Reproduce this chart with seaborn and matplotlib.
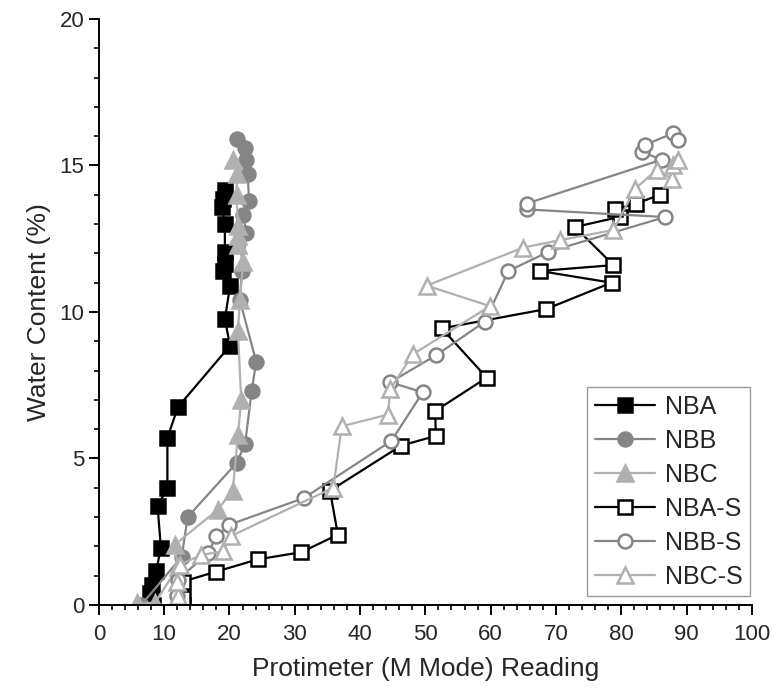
import numpy as np
import pandas as pd
import matplotlib
matplotlib.use('Agg')
import matplotlib.pyplot as plt
from matplotlib.ticker import MultipleLocator
import seaborn as sns

sns.set_style('ticks')
plt.rcParams['font.family'] = ['Liberation Sans', 'DejaVu Sans']

# values (protimeter reading, water content %)
nba_x = [8.3, 7.9, 8.1, 8.8, 9.5, 9.0, 10.5, 10.5, 12.1, 20.1, 19.3, 20.1, 19.0, 19.3, 19.3, 19.3, 18.8, 19.0, 19.3]
nba_y = [0.0, 0.4, 0.68, 1.16, 1.96, 3.37, 4.0, 5.7, 6.75, 8.85, 9.75, 10.9, 11.4, 11.65, 12.05, 13.0, 13.6, 13.87, 14.15]

nbb_x = [6.5, 12.7, 13.6, 21.1, 22.4, 23.4, 24.1, 21.6, 21.9, 22.6, 22.1, 23.0, 22.8, 22.6, 22.4, 21.1]
nbb_y = [0.0, 1.65, 3.0, 4.85, 5.5, 7.3, 8.3, 10.4, 11.4, 12.7, 13.3, 13.8, 14.7, 15.2, 15.6, 15.9]

nbc_x = [5.8, 8.6, 12.1, 11.6, 18.2, 20.5, 21.3, 21.8, 21.3, 21.6, 22.1, 21.3, 21.3, 21.3, 21.1, 21.1, 20.5]
nbc_y = [0.07, 0.07, 1.3, 2.05, 3.25, 3.9, 5.8, 7.0, 9.35, 10.4, 11.7, 12.3, 12.6, 12.95, 14.0, 14.7, 15.2]

nbas_x = [12.9, 12.9, 12.9, 18.0, 24.4, 31.0, 36.6, 35.4, 46.3, 51.6, 51.5, 59.4, 52.5, 68.5, 78.5, 67.5, 78.8, 72.9, 79.8, 79.0, 82.3, 85.9]
nbas_y = [0.0, 0.24, 0.8, 1.14, 1.56, 1.8, 2.4, 3.9, 5.44, 5.77, 6.62, 7.76, 9.44, 10.1, 11.0, 11.4, 11.6, 12.9, 13.25, 13.5, 13.7, 14.0]

nbbs_x = [12.0, 12.1, 16.7, 18.0, 20.0, 31.4, 44.8, 49.6, 44.6, 51.7, 59.1, 62.7, 68.8, 86.7, 65.6, 65.5, 86.2, 83.1, 83.6, 87.9, 88.7]
nbbs_y = [0.3, 0.86, 1.77, 2.34, 2.74, 3.65, 5.6, 7.26, 7.6, 8.53, 9.67, 11.4, 12.05, 13.24, 13.5, 13.7, 15.2, 15.46, 15.7, 16.1, 15.87]

nbcs_x = [12.0, 12.2, 12.0, 12.4, 15.7, 19.0, 20.3, 35.9, 37.2, 44.3, 44.6, 48.1, 59.9, 50.2, 65.0, 70.6, 78.8, 82.1, 85.4, 87.7, 87.9, 88.7]
nbcs_y = [0.1, 0.3, 0.8, 1.37, 1.71, 1.83, 2.36, 4.0, 6.1, 6.5, 7.36, 8.56, 10.2, 10.9, 12.2, 12.45, 12.8, 14.2, 14.85, 14.55, 15.0, 15.2]

series = [
    ('NBA', nba_x, nba_y, 's', '#000000', True),
    ('NBB', nbb_x, nbb_y, 'o', '#858585', True),
    ('NBC', nbc_x, nbc_y, '^', '#b0b0b0', True),
    ('NBA-S', nbas_x, nbas_y, 's', '#000000', False),
    ('NBB-S', nbbs_x, nbbs_y, 'o', '#858585', False),
    ('NBC-S', nbcs_x, nbcs_y, '^', '#b0b0b0', False),
]

fig = plt.figure(figsize=(7.72, 6.91), dpi=100)
ax = fig.add_axes([0.128, 0.1245, 0.846, 0.848])

for name, xs, ys, mk, col, filled in series:
    df = pd.DataFrame({'x': xs, 'y': ys})
    sns.lineplot(data=df, x='x', y='y', sort=False, estimator=None, ax=ax,
                 color=col, lw=1.6, marker=mk, markersize=11 if mk == '^' else 10,
                 markerfacecolor=col if filled else 'white',
                 markeredgecolor=col, markeredgewidth=1.8, label=name)

ax.set_xlim(0, 100)
ax.set_ylim(0, 20)
ax.xaxis.set_major_locator(MultipleLocator(10))
ax.xaxis.set_minor_locator(MultipleLocator(2))
ax.yaxis.set_major_locator(MultipleLocator(5))
ax.yaxis.set_minor_locator(MultipleLocator(1))
ax.tick_params(which='major', direction='out', length=7, width=1.4, labelsize=16, color='black')
ax.tick_params(axis='x', which='major', pad=7)
ax.tick_params(which='minor', direction='out', length=3.5, width=1.2, color='black')
for s in ['top', 'right']:
    ax.spines[s].set_visible(False)
for s in ['left', 'bottom']:
    ax.spines[s].set_linewidth(1.4)
    ax.spines[s].set_color('black')

ax.set_xlabel('Protimeter (M Mode) Reading', fontsize=19, labelpad=8)
ax.set_ylabel('Water Content (%)', fontsize=19, labelpad=6)

leg = ax.legend(loc='lower right', bbox_to_anchor=(0.997, 0.015), fontsize=18,
                frameon=True, fancybox=False, edgecolor='#808080',
                handlelength=2.4, borderpad=0.3, labelspacing=0.4,
                handletextpad=0.4, borderaxespad=0)
leg.get_frame().set_linewidth(1.0)

fig.savefig('out.png', dpi=100)
